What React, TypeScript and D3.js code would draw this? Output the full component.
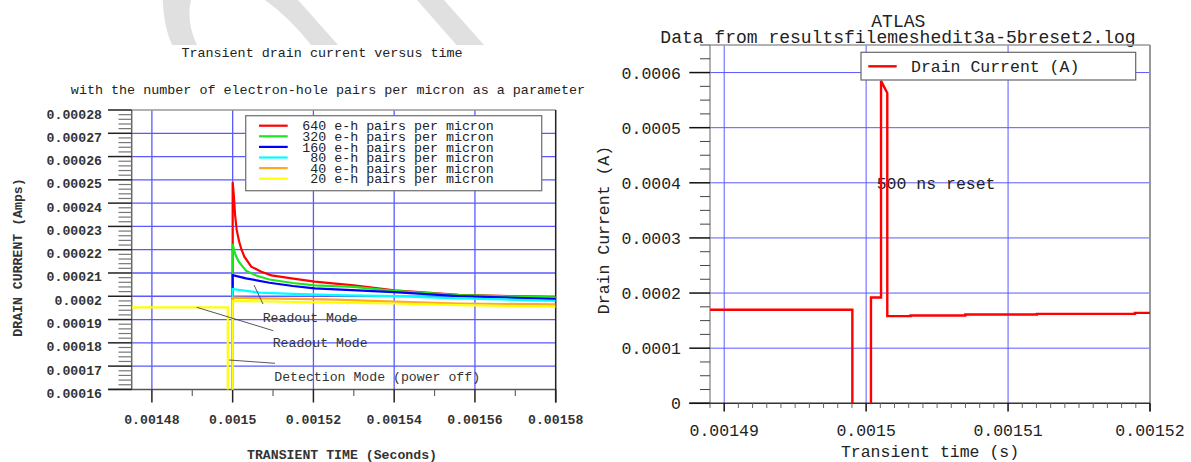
import React from "react";
import * as d3 from "d3";

// ---------- LEFT CHART DATA ----------
const leftXTickLabels = ["0.00148", "0.0015", "0.00152", "0.00154", "0.00156", "0.00158"];
const leftYTickLabels = [
  "0.00016", "0.00017", "0.00018", "0.00019", "0.0002", "0.00021", "0.00022",
  "0.00023", "0.00024", "0.00025", "0.00026", "0.00027", "0.00028",
];
const leftTitle1 = "Transient drain current versus time";
const leftTitle2 = "with the number of electron-hole pairs per micron as a parameter";
const leftXLabel = "TRANSIENT TIME (Seconds)";
const leftYLabel = "DRAIN CURRENT (Amps)";

const seriesNames = [
  "640 e-h pairs per micron",
  "320 e-h pairs per micron",
  "160 e-h pairs per micron",
  "80 e-h pairs per micron",
  "40 e-h pairs per micron",
  "20 e-h pairs per micron",
];
const seriesColors = ["#ff0000", "#1ee61e", "#0000ff", "#00ffff", "#ffa820", "#ffff00"];

const red640: [number, number][] = [
  [0.0015, 0.00015], [0.0015, 0.000249], [0.0015003, 0.000243], [0.0015006, 0.000235],
  [0.001501, 0.0002285], [0.0015016, 0.0002235], [0.0015022, 0.00022], [0.0015029, 0.000217],
  [0.0015046, 0.0002127], [0.0015071, 0.0002105], [0.0015096, 0.000209], [0.0015146, 0.0002077],
  [0.0015203, 0.0002063], [0.00153, 0.0002047], [0.00154, 0.0002025], [0.001556, 0.0002006],
  [0.00158, 0.0001996],
];
const green320: [number, number][] = [
  [0.0015, 0.00015], [0.0015, 0.0002225], [0.0015004, 0.0002195], [0.0015008, 0.0002174],
  [0.0015016, 0.0002146], [0.0015033, 0.000211], [0.0015058, 0.0002089], [0.0015091, 0.0002072],
  [0.0015149, 0.0002057], [0.0015203, 0.0002047], [0.00153, 0.000204], [0.00154, 0.0002023],
  [0.001556, 0.0002005], [0.00158, 0.0001995],
];
const blue160: [number, number][] = [
  [0.0015, 0.00015], [0.0015, 0.0002091], [0.0015033, 0.0002077], [0.0015091, 0.0002058],
  [0.0015149, 0.0002044], [0.0015203, 0.0002034], [0.00154, 0.0002018], [0.001556, 0.0002001],
  [0.00158, 0.0001988],
];
const cyan80: [number, number][] = [
  [0.0015, 0.00015], [0.0015, 0.0002031], [0.0015066, 0.0002016], [0.0015149, 0.000201],
  [0.0015256, 0.0002005], [0.00154, 0.0002001], [0.001556, 0.0001991], [0.00158, 0.000198],
];
const orange40: [number, number][] = [
  [0.0015, 0.00015], [0.0015, 0.0001994], [0.0015256, 0.0001986], [0.00154, 0.0001977],
  [0.001556, 0.0001969], [0.00158, 0.0001965],
];
const yellow20: [number, number][] = [
  [0.001475, 0.0001952], [0.0014988, 0.0001952], [0.0014988, 0.00015], [0.0015, 0.00015],
  [0.0015, 0.000198], [0.0015256, 0.0001973], [0.00154, 0.0001969], [0.001556, 0.0001962],
  [0.00158, 0.0001955],
];
const leftSeries = [red640, green320, blue160, cyan80, orange40, yellow20];

const annotations = ["Readout Mode", "Readout Mode", "Detection Mode (power off)"];

// ---------- RIGHT CHART DATA ----------
const rightTitle1 = "ATLAS";
const rightTitle2 = "Data from resultsfilemeshedit3a-5breset2.log";
const rightXLabel = "Transient time (s)";
const rightYLabel = "Drain Current (A)";
const rightLegend = "Drain Current (A)";
const rightNote = "500 ns reset";
const rightXTickLabels = ["0.00149", "0.0015", "0.00151", "0.00152"];
const rightYTickLabels = ["0", "0.0001", "0.0002", "0.0003", "0.0004", "0.0005", "0.0006"];
const drainCurrent: [number, number][] = [
  [0.001489, 0.0001696], [0.00149903, 0.0001696], [0.00149903, -0.00003],
  [0.00150034, -0.00003], [0.00150034, 0.000192], [0.00150105, 0.000192],
  [0.00150105, 0.000585], [0.00150149, 0.000563], [0.00150149, 0.0001582],
  [0.00150313, 0.0001582], [0.00150313, 0.0001594], [0.00150699, 0.0001594],
  [0.00150699, 0.0001612], [0.00151203, 0.0001612], [0.00151203, 0.0001623],
  [0.00151894, 0.0001623], [0.00151894, 0.0001641], [0.00152, 0.0001641],
];

const FONT = "'Liberation Mono', 'Courier New', monospace";
const GRID = "#5a5aff";

export default function App() {
  // ---- left scales ----
  const lx = d3.scaleLinear().domain([0.001475, 0.00158]).range([131.7, 555.7]);
  const ly = d3.scaleLinear().domain([0.00016, 0.00028]).range([389.4, 110]);
  const lXTicks = leftXTickLabels.map((s) => ({ s, v: +s }));
  const lYTicks = leftYTickLabels.map((s) => ({ s, v: +s }));
  const lYMinor = d3.range(80, 141).map((i) => i * 2e-6).filter((v) => Math.round(v * 1e6) % 10 !== 0);
  const lXMinorTicks = d3.range(149, 158, 2).map((i) => i * 1e-5);
  const lline = d3.line<[number, number]>().x((d) => lx(d[0])).y((d) => ly(d[1]));

  // ---- right scales ----
  const rx = d3.scaleLinear().domain([0.001489, 0.00152]).range([710, 1150]);
  const ry = d3.scaleLinear().domain([0, 0.00065]).range([403.3, 45]);
  const rXTicks = rightXTickLabels.map((s) => ({ s, v: +s }));
  const rYTicks = rightYTickLabels.map((s) => ({ s, v: +s }));
  const rYMinor = d3.range(0, 27).map((i) => i * 2.5e-5).filter((_, i) => i % 4 !== 0);
  const rXMinor = d3.range(1489, 1521).map((i) => i * 1e-6).filter((v) => Math.round(v * 1e6) % 10 !== 0);
  const rline = d3.line<[number, number]>().x((d) => rx(d[0])).y((d) => ry(d[1]));

  return (
    <svg
      width={1191}
      height={462}
      style={{ position: "absolute", left: 0, top: 0, background: "#fff" }}
      fontFamily={FONT}
    >
      <defs>
        <clipPath id="lclip">
          <rect x={131.7} y={110} width={424} height={279.4} />
        </clipPath>
        <clipPath id="rclip">
          <rect x={710} y={45} width={440} height={358.3} />
        </clipPath>
      </defs>
      <rect x={0} y={0} width={1191} height={462} fill="#fff" />

      {/* watermark */}
      <g fill="#e0e0e0">
        <path d="M162.7,0 Q163.5,26 172,45 L197,45 Q186,22 191,0 Z" />
        <path d="M265,0 L298,0 L338,45 L311,45 Q290,18 265,0 Z" />
        <path d="M417,0 L444,0 L484,45 L456.5,45 Z" />
      </g>

      {/* ================= LEFT CHART ================= */}
      <text x={322} y={57} textAnchor="middle" fontSize={13.4} fill="#222">{leftTitle1}</text>
      <text x={328} y={94} textAnchor="middle" fontSize={13.4} fill="#222">{leftTitle2}</text>

      {/* grid */}
      <g stroke={GRID} strokeWidth={1.3}>
        {lYTicks.filter((t) => t.v > 0.00016 && t.v < 0.00028).map((t) => (
          <line key={"lgy" + t.s} x1={lx.range()[0]} x2={lx.range()[1]} y1={ly(t.v)} y2={ly(t.v)} />
        ))}
        {lXTicks.filter((t) => t.v < 0.00158).map((t) => (
          <line key={"lgx" + t.s} x1={lx(t.v)} x2={lx(t.v)} y1={110} y2={389.4} />
        ))}
      </g>

      {/* frame */}
      <line x1={131.7} x2={555.7} y1={110} y2={110} stroke="#999" strokeWidth={1.5} />
      <line x1={131.7} x2={131.7} y1={110} y2={389.4} stroke="#666" strokeWidth={1.5} />
      <line x1={108} x2={555.7} y1={389.4} y2={389.4} stroke="#555" strokeWidth={1.5} />
      <line x1={555.7} x2={555.7} y1={110} y2={402.5} stroke="#222" strokeWidth={1.5} />

      {/* y ticks */}
      {lYMinor.map((v, i) => (
        <line key={"lym" + i} x1={118.5} x2={131.7} y1={ly(v)} y2={ly(v)} stroke="#777" strokeWidth={1.2} />
      ))}
      {lYTicks.map((t) => (
        <g key={"lyt" + t.s}>
          <line x1={108} x2={131.7} y1={ly(t.v)} y2={ly(t.v)} stroke="#222" strokeWidth={1.5} />
          <text x={102} y={ly(t.v) + 8.5} textAnchor="end" fontSize={13.2} fontWeight="bold" fill="#333">{t.s}</text>
        </g>
      ))}
      {/* x ticks */}
      {lXMinorTicks.map((v) => (
        <line key={"lxm" + v} x1={lx(v)} x2={lx(v)} y1={389.4} y2={396} stroke="#666" strokeWidth={1.2} />
      ))}
      {lXTicks.map((t) => (
        <g key={"lxt" + t.s}>
          <line x1={lx(t.v)} x2={lx(t.v)} y1={389.4} y2={402.5} stroke="#222" strokeWidth={1.5} />
          <text x={lx(t.v)} y={424} textAnchor="middle" fontSize={13.2} fontWeight="bold" fill="#333">{t.s}</text>
        </g>
      ))}

      <text x={342} y={459} textAnchor="middle" fontSize={13.2} fontWeight="bold" fill="#333">{leftXLabel}</text>
      <text transform="translate(21.5,257.5) rotate(-90)" textAnchor="middle" fontSize={13.2} fontWeight="bold" fill="#333">{leftYLabel}</text>

      {/* series */}
      <g clipPath="url(#lclip)" fill="none" strokeWidth={2.2}>
        {leftSeries.map((s, i) => (
          <path key={"ls" + i} d={lline(s) || ""} stroke={seriesColors[i]} />
        ))}
      </g>

      {/* annotations */}
      <g stroke="#444" strokeWidth={0.9}>
        <line x1={254} y1={285} x2={263} y2={304} />
        <line x1={196.7} y1={307.3} x2={273.3} y2={330.7} />
        <line x1={229} y1={360} x2={275} y2={363.3} />
      </g>
      <text x={262.7} y={321.5} fontSize={13.2} fill="#333">{annotations[0]}</text>
      <text x={272.7} y={347} fontSize={13.2} fill="#333">{annotations[1]}</text>
      <text x={274.3} y={380.5} fontSize={13.2} fill="#333">{annotations[2]}</text>

      {/* legend */}
      <rect x={245.7} y={115.7} width={296} height={75} fill="#fff" stroke="#777" strokeWidth={1.3} />
      {seriesNames.map((n, i) => {
        const yy = 125.7 + i * 10.6;
        const wide = n.split(" ")[0].length === 3;
        return (
          <g key={"lg" + i}>
            <line x1={259} x2={287.7} y1={yy} y2={yy} stroke={seriesColors[i]} strokeWidth={2.2} />
            <text x={wide ? 302.3 : 310.3} y={yy + 4.6} fontSize={13.3} fill="#222">{n}</text>
          </g>
        );
      })}

      {/* ================= RIGHT CHART ================= */}
      <text x={898.3} y={26.7} textAnchor="middle" fontSize={18} fill="#222">{rightTitle1}</text>
      <text x={898} y={42.7} textAnchor="middle" fontSize={18} fill="#222">{rightTitle2}</text>

      <g stroke={GRID} strokeWidth={1}>
        {rYTicks.filter((t) => t.v > 0).map((t) => (
          <line key={"rgy" + t.s} x1={710} x2={1150} y1={ry(t.v)} y2={ry(t.v)} />
        ))}
        {rXTicks.filter((t) => t.v < 0.00152).map((t) => (
          <line key={"rgx" + t.s} x1={rx(t.v)} x2={rx(t.v)} y1={45} y2={403.3} />
        ))}
      </g>

      <line x1={710} x2={1150} y1={45} y2={45} stroke="#999" strokeWidth={1.3} />
      <line x1={710} x2={710} y1={45} y2={403.3} stroke="#888" strokeWidth={1.3} />
      <line x1={1150} x2={1150} y1={45} y2={411.5} stroke="#999" strokeWidth={2} />
      <line x1={689.3} x2={1150} y1={403.3} y2={403.3} stroke="#333" strokeWidth={1.5} />

      {rYMinor.map((v, i) => (
        <line key={"rym" + i} x1={700} x2={710} y1={ry(v)} y2={ry(v)} stroke="#444" strokeWidth={1} />
      ))}
      {rYTicks.map((t) => (
        <g key={"ryt" + t.s}>
          <line x1={689.3} x2={710} y1={ry(t.v)} y2={ry(t.v)} stroke="#111" strokeWidth={1.5} />
          <text x={681} y={ry(t.v) + 6} textAnchor="end" fontSize={16.5} fill="#222">{t.s}</text>
        </g>
      ))}
      {rXMinor.map((v, i) => (
        <line key={"rxm" + i} x1={rx(v)} x2={rx(v)} y1={403.3} y2={408} stroke="#666" strokeWidth={1} />
      ))}
      {rXTicks.map((t) => (
        <g key={"rxt" + t.s}>
          <line x1={rx(t.v)} x2={rx(t.v)} y1={403.3} y2={411.5} stroke="#111" strokeWidth={1.5} />
          <text x={rx(t.v)} y={436} textAnchor="middle" fontSize={16.5} fill="#222">{t.s}</text>
        </g>
      ))}

      <text x={930} y={457} textAnchor="middle" fontSize={16.5} fill="#222">{rightXLabel}</text>
      <text transform="translate(608.5,230) rotate(-90)" textAnchor="middle" fontSize={16.5} fill="#222">{rightYLabel}</text>

      <text x={876.7} y={188.5} fontSize={16.5} fill="#222">{rightNote}</text>

      <g clipPath="url(#rclip)">
        <path d={rline(drainCurrent) || ""} fill="none" stroke="#ff0000" strokeWidth={2.4} />
      </g>

      <rect x={861} y={52.3} width={274.7} height={27.7} fill="#fff" stroke="#666" strokeWidth={1.2} />
      <line x1={868.3} x2={896.7} y1={66.3} y2={66.3} stroke="#ff0000" strokeWidth={2.4} />
      <text x={911} y={72} fontSize={16.5} fill="#222">{rightLegend}</text>
    </svg>
  );
}
